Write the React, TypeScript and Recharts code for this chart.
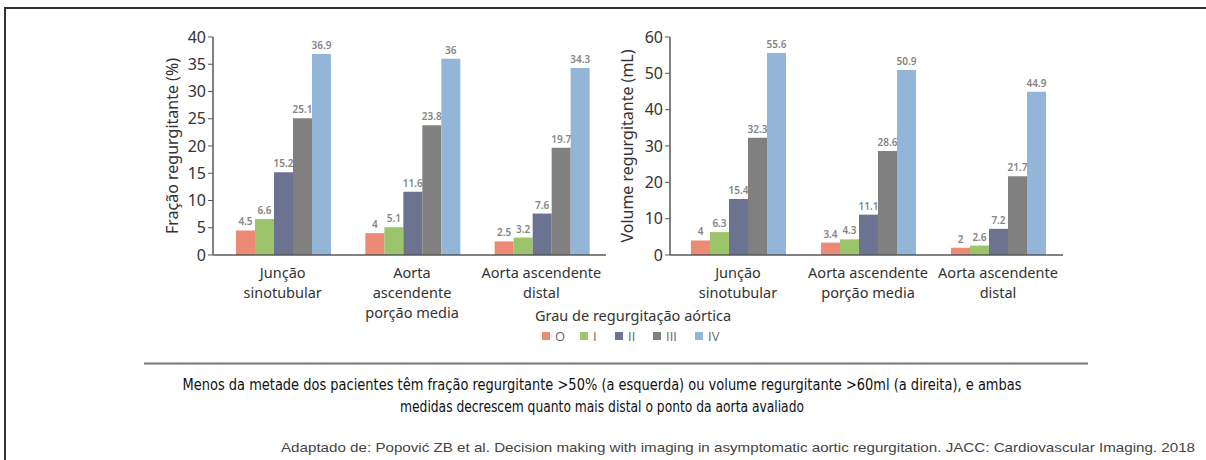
import React from "react";
import { BarChart, Bar, XAxis, YAxis, LabelList } from "recharts";

const grades = ["O", "I", "II", "III", "IV"];
const gradeColors = ["#EC8A76", "#9CC46B", "#6C7391", "#808080", "#93B6D8"];

const fractionCategories = ["Junção|sinotubular", "Aorta|ascendente|porção media", "Aorta ascendente|distal"];
const fractionO = [4.5, 4, 2.5];
const fractionI = [6.6, 5.1, 3.2];
const fractionII = [15.2, 11.6, 7.6];
const fractionIII = [25.1, 23.8, 19.7];
const fractionIV = [36.9, 36, 34.3];
const fractionTicks = [0, 5, 10, 15, 20, 25, 30, 35, 40];

const volumeCategories = ["Junção|sinotubular", "Aorta ascendente|porção media", "Aorta ascendente|distal"];
const volumeO = [4, 3.4, 2];
const volumeI = [6.3, 4.3, 2.6];
const volumeII = [15.4, 11.1, 7.2];
const volumeIII = [32.3, 28.6, 21.7];
const volumeIV = [55.6, 50.9, 44.9];
const volumeTicks = [0, 10, 20, 30, 40, 50, 60];

const legendTitle = "Grau de regurgitação aórtica";
const captionLines = [
  "Menos da metade dos pacientes têm fração regurgitante >50% (a esquerda) ou volume regurgitante >60ml (a direita), e ambas",
  "medidas decrescem quanto mais distal o ponto da aorta avaliado",
];
const citation =
  "Adaptado de: Popović ZB et al. Decision making with imaging in asymptomatic aortic regurgitation. JACC: Cardiovascular Imaging. 2018";

const FONT = "'Noto Sans', 'Open Sans', sans-serif";

function buildRows(cats: string[], series: number[][]) {
  return cats.map((c, i) => {
    const row: Record<string, any> = { cat: c };
    grades.forEach((g, k) => {
      row[g] = series[k][i];
    });
    return row;
  });
}

const fractionData = buildRows(fractionCategories, [fractionO, fractionI, fractionII, fractionIII, fractionIV]);
const volumeData = buildRows(volumeCategories, [volumeO, volumeI, volumeII, volumeIII, volumeIV]);

const CatTick = (props: any) => {
  const { x, y, payload } = props;
  const lines = String(payload.value).split("|");
  return (
    <g transform={`translate(${x},${y})`}>
      {lines.map((l, i) => (
        <text
          key={i}
          x={0}
          y={15 + i * 20}
          textAnchor="middle"
          fontSize={14.5}
          fontFamily={FONT}
          fill="#333"
        >
          {l}
        </text>
      ))}
    </g>
  );
};

const makeYLabel = (text: string, cx: number) => (props: any) => {
  const vb = props.viewBox || {};
  const cy = vb.y + vb.height / 2;
  return (
    <text
      x={cx}
      y={cy}
      transform={`rotate(-90, ${cx}, ${cy})`}
      textAnchor="middle"
      dominantBaseline="central"
      fontSize={16}
      fontFamily={FONT}
      fill="#333"
    >
      {text}
    </text>
  );
};

const ValueLabel = (props: any) => {
  const { x, y, width, value } = props;
  return (
    <text
      x={x + width / 2}
      y={y - 5}
      textAnchor="middle"
      fontSize={10}
      fontWeight={600}
      fontFamily={FONT}
      fill="#858585"
    >
      {value}
    </text>
  );
};

function Panel(props: {
  data: any[];
  ticks: number[];
  max: number;
  ylabel: string;
  labelX: number;
  width: number;
  left: number;
  marginLeft: number;
  marginRight: number;
  padLeft: number;
}) {
  const { data, ticks, max, ylabel, labelX, width, left, marginLeft, marginRight, padLeft } = props;
  return (
    <div style={{ position: "absolute", left, top: 0 }}>
      <BarChart
        width={width}
        height={340}
        data={data}
        margin={{ top: 37, right: marginRight, bottom: 15, left: marginLeft }}
        barGap={0}
        barCategoryGap={18}
      >
        <XAxis
          dataKey="cat"
          tickLine={false}
          axisLine={{ stroke: "#595959", strokeWidth: 1.5 }}
          tick={<CatTick />}
          interval={0}
          height={70}
          padding={{ left: padLeft, right: 0 }}
        />
        <YAxis
          domain={[0, max]}
          ticks={ticks}
          width={60}
          tickSize={5}
          tickMargin={2}
          axisLine={{ stroke: "#595959", strokeWidth: 1.5 }}
          tickLine={{ stroke: "#595959" }}
          tick={{ fontSize: 16, fill: "#333", fontFamily: FONT }}
          label={{ content: makeYLabel(ylabel, labelX) }}
        />
        {grades.map((g, k) => (
          <Bar key={g} dataKey={g} fill={gradeColors[k]} isAnimationActive={false}>
            <LabelList dataKey={g} content={<ValueLabel />} />
          </Bar>
        ))}
      </BarChart>
    </div>
  );
}

export default function App() {
  const legendX = [542, 580, 615, 653, 695];
  return (
    <div
      style={{
        position: "absolute",
        left: 0,
        top: 0,
        width: 1206,
        height: 460,
        background: "#fff",
        overflow: "hidden",
        fontFamily: FONT,
      }}
    >
      <Panel
        data={fractionData}
        ticks={fractionTicks}
        max={40}
        ylabel="Fração regurgitante (%)"
        labelX={172}
        width={620}
        left={0}
        marginLeft={153}
        marginRight={14}
        padLeft={5}
      />
      <Panel
        data={volumeData}
        ticks={volumeTicks}
        max={60}
        ylabel="Volume regurgitante (mL)"
        labelX={27}
        width={480}
        left={600}
        marginLeft={10}
        marginRight={17}
        padLeft={3}
      />
      <svg
        width={1206}
        height={460}
        style={{ position: "absolute", left: 0, top: 0, pointerEvents: "none" }}
      >
        <line x1={5} y1={8} x2={1206} y2={8} stroke="#333" strokeWidth={2} />
        <line x1={5} y1={7} x2={5} y2={460} stroke="#333" strokeWidth={2} />
        <text x={633} y={321} textAnchor="middle" fontSize={14.5} fontFamily={FONT} fill="#333">
          {legendTitle}
        </text>
        {grades.map((g, k) => (
          <g key={g}>
            <rect x={legendX[k]} y={332} width={8} height={8} fill={gradeColors[k]} />
            <text
              x={legendX[k] + 13}
              y={340.5}
              fontSize={13}
              fontFamily="'Open Sans', 'Liberation Sans', sans-serif"
              fill="#666"
            >
              {g}
            </text>
          </g>
        ))}
        <line x1={144} y1={363.5} x2={1088} y2={363.5} stroke="#777" strokeWidth={2} />
        {captionLines.map((l, i) => (
          <text
            key={i}
            x={602}
            y={390 + i * 22}
            textAnchor="middle"
            fontSize={15}
            fontFamily="'Liberation Sans Narrow', 'DejaVu Sans Condensed', sans-serif"
            fill="#111"
            textLength={i === 0 ? 839 : 404}
            lengthAdjust="spacingAndGlyphs"
          >
            {l}
          </text>
        ))}
        <text
          x={281}
          y={452}
          fontSize={13}
          fontFamily="'Liberation Sans', Arial, sans-serif"
          fill="#444"
          textLength={914}
          lengthAdjust="spacingAndGlyphs"
        >
          {citation}
        </text>
      </svg>
    </div>
  );
}
